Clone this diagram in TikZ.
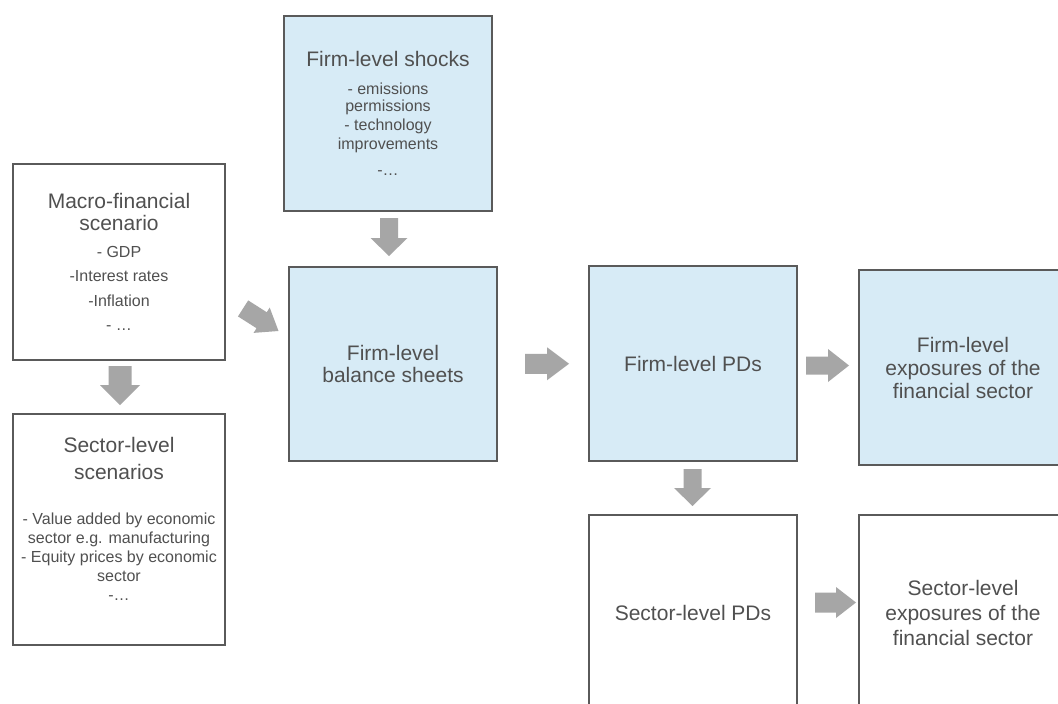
\documentclass[tikz,border=0pt]{standalone}
\usepackage{fontspec}
\setmainfont{Liberation Sans}
\usetikzlibrary{calc}
\definecolor{txtgray}{HTML}{505050}
\definecolor{boxline}{HTML}{5A5A5A}
\definecolor{boxblue}{HTML}{D7EBF6}
\definecolor{arrgray}{HTML}{A6A6A6}
\tikzset{
  box/.style={draw=boxline, line width=2.4pt, rectangle, inner sep=0pt,
    text=txtgray, align=flush center, text width=205pt,
    font=\fontsize{21}{22}\selectfont},
  bluebox/.style={box, fill=boxblue},
  whitebox/.style={box, fill=white},
  txt/.style={inner sep=0pt, text=txtgray, align=flush center, text width=205pt},
  pics/barrow/.style n args={4}{code={
    \fill[arrgray] (-#1/2,-#2/2) -- (#1/2-#4,-#2/2) -- (#1/2-#4,-#3/2) -- (#1/2,0)
      -- (#1/2-#4,#3/2) -- (#1/2-#4,#2/2) -- (-#1/2,#2/2) -- cycle;
  }}
}
\begin{document}
\begin{tikzpicture}[x=1pt,y=-1pt]
\useasboundingbox (0,0) rectangle (1058,704);
\clip (0,0) rectangle (1058,704);
\fill[white] (0,0) rectangle (1058,704);

% boxes
\node[whitebox, minimum width=212pt, minimum height=196pt] (macro) at (119,262)
  {{\fontsize{21}{22}\selectfont Macro-financial\\scenario\par}\vspace{2.7pt}%
   {\fontsize{16}{24.3}\selectfont - GDP\\-Interest rates\\-Inflation\\- …\par}};
\node[whitebox, minimum width=212pt, minimum height=231pt] (sec) at (119,529.5) {};
\node[txt] (sectxt) at ([yshift=11pt]sec.center)
  {{\fontsize{21}{27}\selectfont Sector-level\\scenarios\par}\vspace{26pt}%
   {\fontsize{16}{19}\selectfont - Value added by economic\\sector e.g. manufacturing\\- Equity prices by economic\\sector\\-…\par}};
\node[bluebox, minimum width=208pt, minimum height=195pt] (shocks) at (388,113.5)
  {{\fontsize{21}{22}\selectfont Firm-level shocks\par}\vspace{10.3pt}%
   {\fontsize{16}{17}\selectfont - emissions\\permissions\par}\vspace{1pt}%
   {\fontsize{16}{18.7}\selectfont - technology\\improvements\par}\vspace{7pt}%
   {\fontsize{16}{18.7}\selectfont -…\par}};
\node[bluebox, minimum width=208pt, minimum height=194pt] (bal) at (393,364)
  {Firm-level\\balance sheets};
\node[bluebox, minimum width=208pt, minimum height=195pt] (pd) at (693,363.5)
  {Firm-level PDs};
\node[bluebox, minimum width=208pt, minimum height=195pt, font=\fontsize{21}{23}\selectfont] (fe) at (963,367.5)
  {Firm-level\\exposures of the\\financial sector};
\node[whitebox, minimum width=208pt, minimum height=195pt] (spd) at (693,612.5)
  {Sector-level PDs};
\node[whitebox, minimum width=208pt, minimum height=195pt, font=\fontsize{21}{25}\selectfont] (se) at (963,612.5)
  {Sector-level\\exposures of the\\financial sector};

% block arrows
\pic[rotate=-90] at ($($(macro.south)!0.5!(sec.north)$)+(1,-1.5)$) {barrow={39}{23}{40}{20}};
\pic[rotate=-90] at ($($(shocks.south)!0.5!(bal.north)$)+(-1.5,-2)$) {barrow={38}{18}{37}{18}};
\pic[rotate=-32.5] at ($($(macro.east)!0.5!(bal.west)$)+(3.8,6.7)$) {barrow={42}{19}{30}{20}};
\pic at ($($(bal.east)!0.5!(pd.west)$)+(4,0)$) {barrow={44}{20}{33}{22}};
\pic at ($($(pd.east)!0.5!(fe.west)$)+(-0.5,0)$) {barrow={43}{18}{33}{21}};
\pic[rotate=-90] at ($($(pd.south)!0.5!(spd.north)$)+(-0.5,-0.5)$) {barrow={37}{18}{37}{18}};
\pic at ($($(spd.east)!0.5!(se.west)$)+(7.5,-10)$) {barrow={41}{20}{31}{20}};
\end{tikzpicture}
\end{document}
